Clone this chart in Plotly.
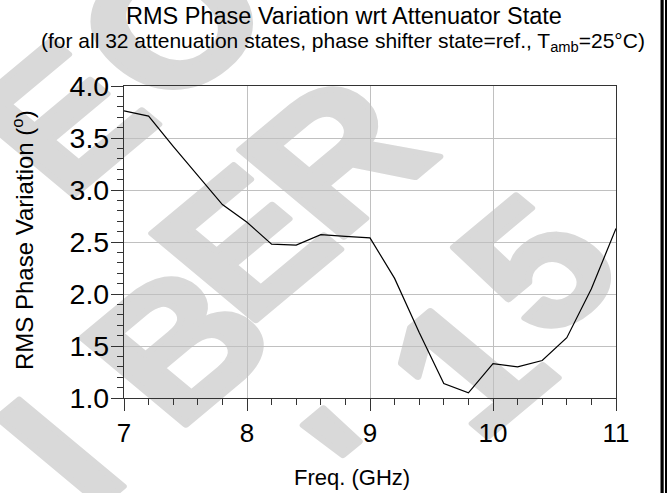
import base64
import plotly.graph_objects as go

# RMS phase variation over all attenuation states, 7-11 GHz
freq_ghz = [7.0, 7.2, 7.4, 7.6, 7.8, 8.0, 8.2, 8.4, 8.6, 8.8, 9.0,
            9.2, 9.4, 9.6, 9.8, 10.0, 10.2, 10.4, 10.6, 10.8, 11.0]
rms_phase_deg = [3.76, 3.71, 3.42, 3.14, 2.86, 2.69, 2.48, 2.47, 2.57, 2.555, 2.54,
                 2.15, 1.63, 1.14, 1.05, 1.33, 1.30, 1.36, 1.58, 2.05, 2.63]

x_ticks = [7, 8, 9, 10, 11]
y_ticks = [1.0, 1.5, 2.0, 2.5, 3.0, 3.5, 4.0]

W, H = 667, 493
L, R, T, B = 124, 51, 86, 95
PW, PH = W - L - R, H - T - B


def px_to_paper_x(px):
    return (px - L) / PW


def px_to_paper_y(py):
    return (H - B - py) / PH


# light grey stamp behind the plot: glyph, centre x, centre y (page pixels)
stamp_glyphs = [("E", 62, 118), ("O", 172, 22),
                ("I", 60, 452), ("B", 178, 344), ("E", 244, 243), ("R", 336, 156),
                ("'", 365, 460), ("1", 468, 366), ("5", 536, 265)]
svg_parts = [f'<svg xmlns="http://www.w3.org/2000/svg" width="{W}" height="{H}" viewBox="0 0 {W} {H}">']
for ch, cx, cy in stamp_glyphs:
    svg_parts.append(
        f'<text x="0" y="0" transform="translate({cx} {cy}) scale(1.2 1) rotate(-45)" '
        f'font-family="Liberation Sans, Arial, sans-serif" font-weight="bold" '
        f'font-size="178" fill="#d9d9d9" stroke="#d9d9d9" stroke-width="6" '
        f'stroke-linejoin="round" text-anchor="middle" '
        f'dominant-baseline="central">{ch}</text>')
svg_parts.append('</svg>')
stamp_uri = "data:image/svg+xml;base64," + base64.b64encode("".join(svg_parts).encode()).decode()

FONT = "Liberation Sans, Arial, Helvetica, sans-serif"

fig = go.Figure()
fig.add_trace(go.Scatter(
    x=freq_ghz, y=rms_phase_deg, mode="lines",
    line=dict(color="black", width=1.2), showlegend=False, hoverinfo="x+y"))

axis_common = dict(
    showline=True, linecolor="#333333", linewidth=1.2, mirror=True,
    showgrid=True, gridcolor="#c0c0c0", gridwidth=1,
    ticks="outside", ticklen=12, tickcolor="#333333", tickwidth=1,
    zeroline=False,
)

fig.update_xaxes(
    range=[7, 11], tickvals=x_ticks, ticktext=[str(v) for v in x_ticks],
    tickfont=dict(family=FONT, size=26, color="black"),
    minor=dict(dtick=0.2, ticks="outside", ticklen=6, tickcolor="#333333", showgrid=False),
    **axis_common)
fig.update_yaxes(
    range=[1, 4], tickvals=y_ticks, ticktext=[f"{v:.1f}" for v in y_ticks],
    tickfont=dict(family=FONT, size=28.5, color="black"), ticklabelstandoff=-4,
    minor=dict(dtick=0.1, ticks="outside", ticklen=6, tickcolor="#333333", showgrid=False),
    **axis_common)

annotations = [
    dict(text="RMS Phase Variation wrt Attenuator State",
         x=px_to_paper_x(343.5), y=px_to_paper_y(16), font=dict(family=FONT, size=23.5, color="black")),
    dict(text="(for all 32 attenuation states, phase shifter state=ref., T<sub>amb</sub>=25°C)",
         x=px_to_paper_x(343), y=px_to_paper_y(41.5), font=dict(family=FONT, size=21, color="black")),
    dict(text="Freq. (GHz)",
         x=px_to_paper_x(351.5), y=px_to_paper_y(477), font=dict(family=FONT, size=22, color="black")),
    dict(text="RMS Phase Variation (<sup>o</sup>)", textangle=-90,
         x=px_to_paper_x(23), y=px_to_paper_y(240), font=dict(family=FONT, size=24, color="black")),
]
for a in annotations:
    a.update(xref="paper", yref="paper", xanchor="center", yanchor="middle", showarrow=False)

# double rule along the right edge of the page
shapes = [
    dict(type="rect", xref="paper", yref="paper",
         x0=px_to_paper_x(660.5), x1=px_to_paper_x(663.7), y0=px_to_paper_y(H), y1=px_to_paper_y(0),
         fillcolor="black", line=dict(width=0)),
    dict(type="rect", xref="paper", yref="paper",
         x0=px_to_paper_x(665), x1=px_to_paper_x(667), y0=px_to_paper_y(H), y1=px_to_paper_y(0),
         fillcolor="black", line=dict(width=0)),
]

fig.update_layout(
    width=W, height=H,
    margin=dict(l=L, r=R, t=T, b=B, autoexpand=False),
    paper_bgcolor="white", plot_bgcolor="rgba(0,0,0,0)",
    annotations=annotations, shapes=shapes,
    images=[dict(source=stamp_uri, xref="paper", yref="paper",
                 x=px_to_paper_x(0), y=px_to_paper_y(0), sizex=W / PW, sizey=H / PH,
                 xanchor="left", yanchor="top", sizing="stretch", layer="below")],
    font=dict(family=FONT, color="black"),
)

fig.write_html("out.html")
